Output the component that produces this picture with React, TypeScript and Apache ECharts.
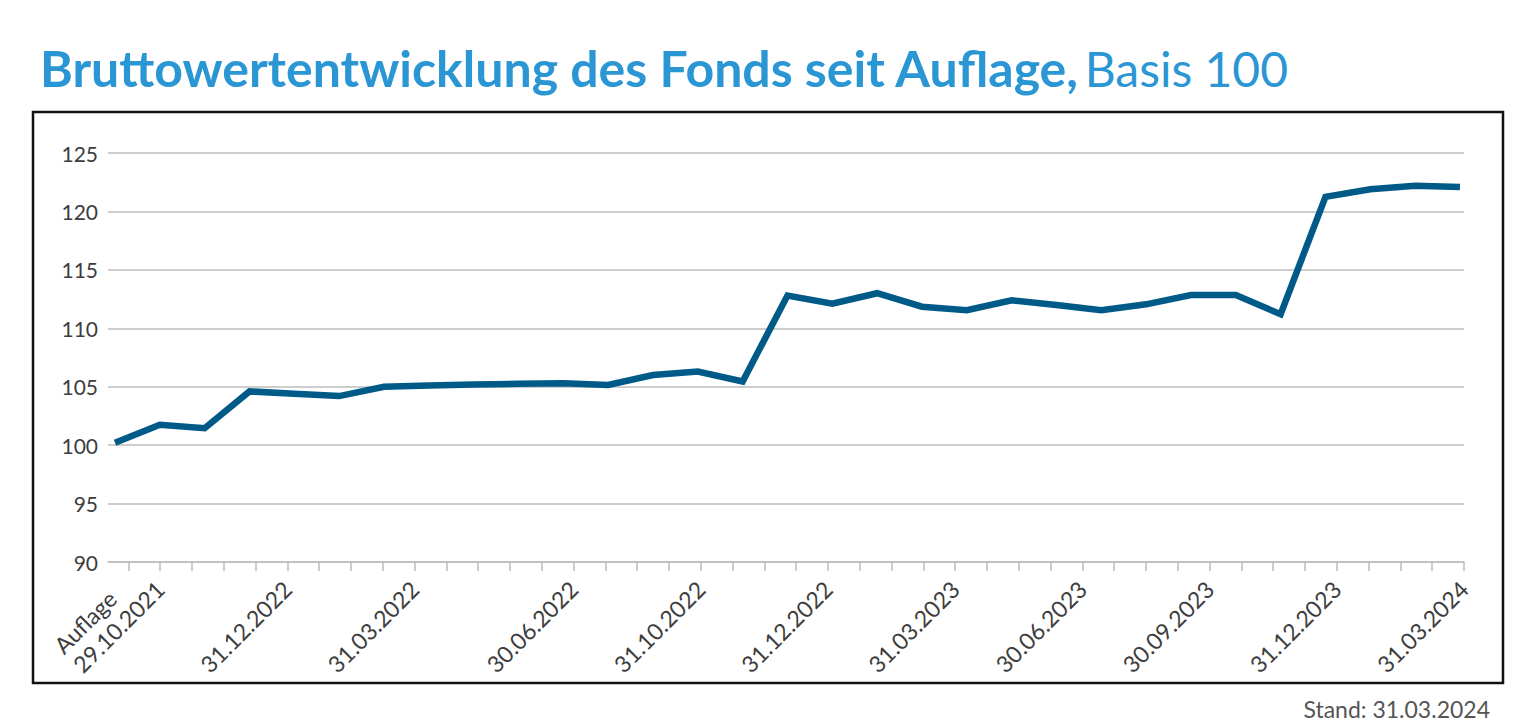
import React, { useEffect, useRef } from "react";
import * as echarts from "echarts";

// Fund gross value, base 100 (one value per period, launch first)
const values: number[] = [
  100.2, 101.75, 101.45, 104.6, 104.4, 104.2, 105.0, 105.1, 105.2, 105.25,
  105.3, 105.15, 106.0, 106.3, 105.45, 112.8, 112.1, 113.0, 111.85, 111.55,
  112.4, 112.0, 111.55, 112.05, 112.85, 112.85, 111.2, 121.25, 121.9, 122.2,
  122.1,
];

// Date axis: tick indices and the labels placed at some of them
const tickIndices: number[] = Array.from({ length: 43 }, (_, i) => i);
const labelTicks: number[] = [1, 5, 9, 14, 18, 22, 26, 30, 34, 38, 42];
const labelTexts: string[] = [
  "Auflage\n29.10.2021",
  "31.12.2022",
  "31.03.2022",
  "30.06.2022",
  "31.10.2022",
  "31.12.2022",
  "31.03.2023",
  "30.06.2023",
  "30.09.2023",
  "31.12.2023",
  "31.03.2024",
];

const yTicks = { min: 90, max: 125, step: 5 };

const titleBold = "Bruttowertentwicklung des Fonds seit Auflage,";
const titleRegular = "Basis 100";
const footnote = "Stand: 31.03.2024";

const FONT = "Lato, 'Open Sans', sans-serif";
const LABEL_SIZE = 23;

function measure(text: string, size: number): number {
  const c = document.createElement("canvas").getContext("2d");
  if (!c) return text.length * size * 0.55;
  c.font = `${size}px Lato`;
  return c.measureText(text).width;
}

export default function App() {
  const ref = useRef<HTMLDivElement>(null);

  useEffect(() => {
    document.body.style.margin = "0";
    if (!ref.current) return;
    const chart = echarts.init(ref.current, null, { renderer: "svg" });

    const seriesData = values.map((v, i) => [i, v]);

    const fmt = (val: number) => {
      const k = labelTicks.indexOf(Math.round(val));
      if (k < 0) return "";
      const t = labelTexts[k];
      if (t.includes("\n")) {
        const lines = t.split("\n");
        return lines.map((l) => `{m|${l}}`).join("\n") + "\n{m| }";
      }
      return t;
    };
    const multiWidth = Math.max(
      ...labelTexts
        .filter((t) => t.includes("\n"))
        .flatMap((t) => t.split("\n"))
        .map((l) => measure(l, LABEL_SIZE))
    );

    chart.setOption({
      animation: false,
      backgroundColor: "#ffffff",
      title: {
        left: 35,
        top: 38,
        text: `{b|${titleBold}} {n|${titleRegular}}`,
        textStyle: {
          rich: {
            b: {
              fontFamily: FONT,
              fontWeight: "bold",
              fontSize: 50,
              color: "#2B96D4",
            },
            n: {
              fontFamily: FONT,
              fontWeight: "normal",
              fontSize: 48,
              color: "#2B96D4",
            },
          },
        },
      },
      grid: { left: 108, right: 72, top: 153, bottom: 159 },
      xAxis: [
        {
          type: "value",
          min: -0.156,
          max: 30.09,
          show: false,
        },
        {
          type: "value",
          position: "bottom",
          min: -0.638,
          max: 42,
          axisLine: { show: true, lineStyle: { color: "#bdbdbd", width: 1.5 } },
          axisTick: {
            show: true,
            inside: false,
            length: 9,
            lineStyle: { color: "#bdbdbd", width: 1.5 },
            customValues: tickIndices,
          },
          splitLine: { show: false },
          axisLabel: {
            show: true,
            rotate: 45,
            margin: 23,
            fontFamily: FONT,
            fontSize: LABEL_SIZE,
            color: "#3d3d3d",
            lineHeight: 27,
            customValues: labelTicks,
            formatter: fmt,
            rich: {
              m: {
                fontFamily: FONT,
                fontSize: LABEL_SIZE,
                color: "#3d3d3d",
                lineHeight: 27,
                width: multiWidth,
                align: "left",
              },
            },
          },
        },
      ],
      yAxis: {
        type: "value",
        min: yTicks.min,
        max: yTicks.max,
        interval: yTicks.step,
        axisLine: { show: false },
        axisTick: { show: false },
        axisLabel: {
          margin: 10,
          fontFamily: FONT,
          fontSize: 21,
          color: "#3d3d3d",
        },
        splitLine: { lineStyle: { color: "#bdbdbd", width: 1.5 } },
      },
      series: [
        {
          type: "line",
          xAxisIndex: 0,
          data: seriesData,
          symbol: "none",
          lineStyle: { color: "#005A88", width: 6.5, join: "miter" },
        },
      ],
      graphic: [
        {
          type: "rect",
          shape: { x: 33, y: 112, width: 1470, height: 571 },
          style: { fill: "none", stroke: "#111111", lineWidth: 2.5 },
          silent: true,
        },
        {
          type: "text",
          right: 46,
          top: 697,
          style: {
            text: footnote,
            fontFamily: FONT,
            fontSize: 23,
            fill: "#555555",
          },
        },
      ],
    });

    return () => chart.dispose();
  }, []);

  return <div ref={ref} style={{ width: 1536, height: 721 }} />;
}
